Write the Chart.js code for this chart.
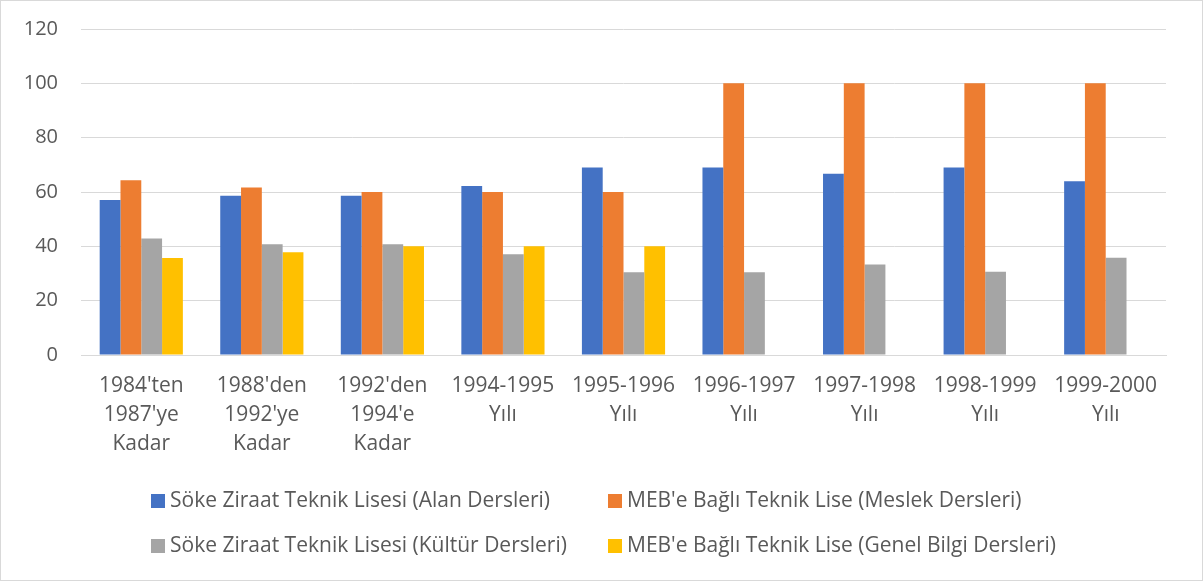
<!DOCTYPE html>
<html>
<head>
<meta charset="utf-8">
<script src="https://cdn.jsdelivr.net/npm/chart.js@4"></script>
<style>
  html, body { margin: 0; padding: 0; background: #fff; }
  #wrap { position: relative; width: 1201px; height: 579px; border: 1px solid #d9d9d9; }
  #chart { position: absolute; left: 0; top: 0; }
  #legend { position: absolute; left: 0; top: 0; width: 1201px;
    font-family: "Open Sans", Lato, sans-serif; font-size: 21px; color: #595959; }
  .item { position: absolute; white-space: nowrap; height: 28px; line-height: 28px; }
  .box { display: inline-block; width: 14px; height: 14px; margin-right: 5px; vertical-align: -1px; }
</style>
</head>
<body>
<div id="wrap">
  <canvas id="chart" width="1201" height="579"></canvas>
  <div id="legend"></div>
</div>
<script>
// categories
const periods = [
    ["1984'ten", "1987'ye", "Kadar"],
    ["1988'den", "1992'ye", "Kadar"],
    ["1992'den", "1994'e", "Kadar"],
    ["1994-1995", "Yılı"],
    ["1995-1996", "Yılı"],
    ["1996-1997", "Yılı"],
    ["1997-1998", "Yılı"],
    ["1998-1999", "Yılı"],
    ["1999-2000", "Yılı"]
];

// series values (%)
const sokeAlan    = [57.1, 58.6, 58.6, 62.2, 69.0, 69.0, 66.7, 69.0, 64.0];
const mebMeslek   = [64.3, 61.7, 60.0, 60.0, 60.0, 100, 100, 100, 100];
const sokeKultur  = [42.9, 40.8, 40.8, 37.1, 30.5, 30.5, 33.3, 30.6, 35.8];
const mebGenel    = [35.7, 37.8, 40.0, 40.0, 40.0, null, null, null, null];

const seriesNames = [
    'Söke Ziraat Teknik Lisesi (Alan Dersleri)',
    "MEB'e Bağlı Teknik Lise (Meslek Dersleri)",
    'Söke Ziraat Teknik Lisesi (Kültür Dersleri)',
    "MEB'e Bağlı Teknik Lise (Genel Bilgi Dersleri)"
];
const seriesColors = ['#4472c4', '#ed7d31', '#a5a5a5', '#ffc000'];

const yTicks = { min: 0, max: 120, step: 20 };

const FONT = '"Open Sans", Lato, sans-serif';
const TEXT = '#595959';

const chart = new Chart(document.getElementById('chart'), {
    type: 'bar',
    data: {
        labels: periods,
        datasets: [sokeAlan, mebMeslek, sokeKultur, mebGenel].map((d, i) => ({
            label: seriesNames[i],
            data: d,
            backgroundColor: seriesColors[i],
            categoryPercentage: 0.69,
            barPercentage: 1.0
        }))
    },
    options: {
        responsive: false,
        animation: false,
        layout: { padding: { left: 0, right: 36, top: 28, bottom: 115 } },
        plugins: {
            legend: { display: false },
            tooltip: { enabled: false }
        },
        scales: {
            x: {
                grid: { display: false, drawTicks: false },
                border: { color: '#d9d9d9', width: 1 },
                ticks: {
                    color: TEXT, padding: 16, maxRotation: 0, autoSkip: false,
                    font: { family: FONT, size: 21, lineHeight: 1.4 }
                },
                afterFit: s => { s.height = 110; }
            },
            y: {
                min: yTicks.min, max: yTicks.max,
                grid: { color: '#d9d9d9', lineWidth: 1, drawTicks: false },
                border: { display: false },
                ticks: {
                    stepSize: yTicks.step, color: TEXT, padding: 23,
                    font: { family: FONT, size: 20 }
                },
                // fixed axis width; the tick padding should not push the plot down
                afterFit: s => { s.width = 80; s.paddingTop = 0; s.paddingBottom = 0; }
            }
        }
    }
});

// two-column legend, built from the datasets
const legend = document.getElementById('legend');
const colX = [150, 607];
const rowY = [484, 529];
chart.data.datasets.forEach((ds, i) => {
    const el = document.createElement('div');
    el.className = 'item';
    el.style.left = colX[i % 2] + 'px';
    el.style.top = rowY[Math.floor(i / 2)] + 'px';
    el.innerHTML = '<span class="box" style="background:' + ds.backgroundColor + '"></span>';
    el.appendChild(document.createTextNode(ds.label));
    legend.appendChild(el);
});
</script>
</body>
</html>
